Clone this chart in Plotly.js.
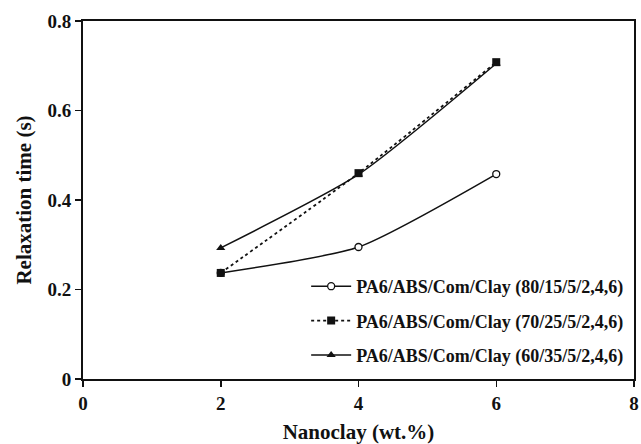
<!DOCTYPE html>
<html><head><meta charset="utf-8">
<script src="https://cdn.plot.ly/plotly-3.0.1.min.js"></script>
<style>html,body{margin:0;padding:0;background:#fff}#plot{width:641px;height:444px}</style>
</head><body><div id="plot"></div>
<script>
const nanoclay = [2, 4, 6];
const s80 = [0.237, 0.295, 0.458];
const s70 = [0.237, 0.460, 0.708];
const s60 = [0.293, 0.457, 0.705];
const names = [
  'PA6/ABS/Com/Clay (80/15/5/2,4,6)',
  'PA6/ABS/Com/Clay (70/25/5/2,4,6)',
  'PA6/ABS/Com/Clay (60/35/5/2,4,6)'
];
const font = {family: 'Liberation Serif, Times New Roman, serif', color: '#111'};
const traces = [
  {x: nanoclay, y: s80, name: names[0], legendgroup: 'a', mode: 'lines+markers',
   line: {color: '#111', width: 1.5, shape: 'spline', smoothing: 0.6},
   marker: {symbol: 'circle', size: 7, color: '#fff', line: {color: '#111', width: 1.3}}},
  {x: nanoclay, y: s70, name: names[1], legendgroup: 'b', mode: 'lines+markers',
   line: {color: '#111', width: 1.8, dash: 'dot', shape: 'spline', smoothing: 0.6},
   marker: {symbol: 'square', size: 8, color: '#111'}},
  {x: nanoclay, y: s60, name: names[2], legendgroup: 'c', mode: 'lines+markers',
   line: {color: '#111', width: 1.5, shape: 'spline', smoothing: 0.6},
   marker: {symbol: 'triangle-up', size: 8, color: '#111'}}
];
const layout = {
  width: 641, height: 444,
  margin: {l: 83, r: 7, t: 21, b: 65},
  paper_bgcolor: '#fff', plot_bgcolor: '#fff',
  font: font,
  showlegend: true,
  legend: {x: 0.405, y: 0.31, xanchor: 'left', yanchor: 'top', bgcolor: 'rgba(0,0,0,0)',
           font: {family: font.family, size: 18, color: '#111', weight: 'bold'},
           traceorder: 'grouped', tracegroupgap: 8, itemwidth: 40},
  xaxis: {range: [0, 8], tickvals: [0, 2, 4, 6, 8], ticks: 'outside', ticklen: 6, tickwidth: 1.5,
          tickcolor: '#111', showline: true, linecolor: '#111', linewidth: 2, mirror: true,
          showgrid: false, zeroline: false, ticklabeloverflow: 'allow',
          tickfont: {family: font.family, size: 19, color: '#111', weight: 'bold'},
          title: {text: 'Nanoclay (wt.%)', standoff: 12,
                  font: {family: font.family, size: 21, color: '#111', weight: 'bold'}}},
  yaxis: {range: [0, 0.8], tickvals: [0, 0.2, 0.4, 0.6, 0.8], ticktext: ['0', '0.2', '0.4', '0.6', '0.8'],
          ticks: 'outside', ticklen: 6, tickwidth: 1.5,
          tickcolor: '#111', showline: true, linecolor: '#111', linewidth: 2, mirror: true,
          showgrid: false, zeroline: false,
          tickfont: {family: font.family, size: 19, color: '#111', weight: 'bold'},
          title: {text: 'Relaxation time (s)', standoff: 10,
                  font: {family: font.family, size: 21, color: '#111', weight: 'bold'}}}
};
Plotly.newPlot('plot', traces, layout, {displayModeBar: false, staticPlot: true});
</script></body></html>
